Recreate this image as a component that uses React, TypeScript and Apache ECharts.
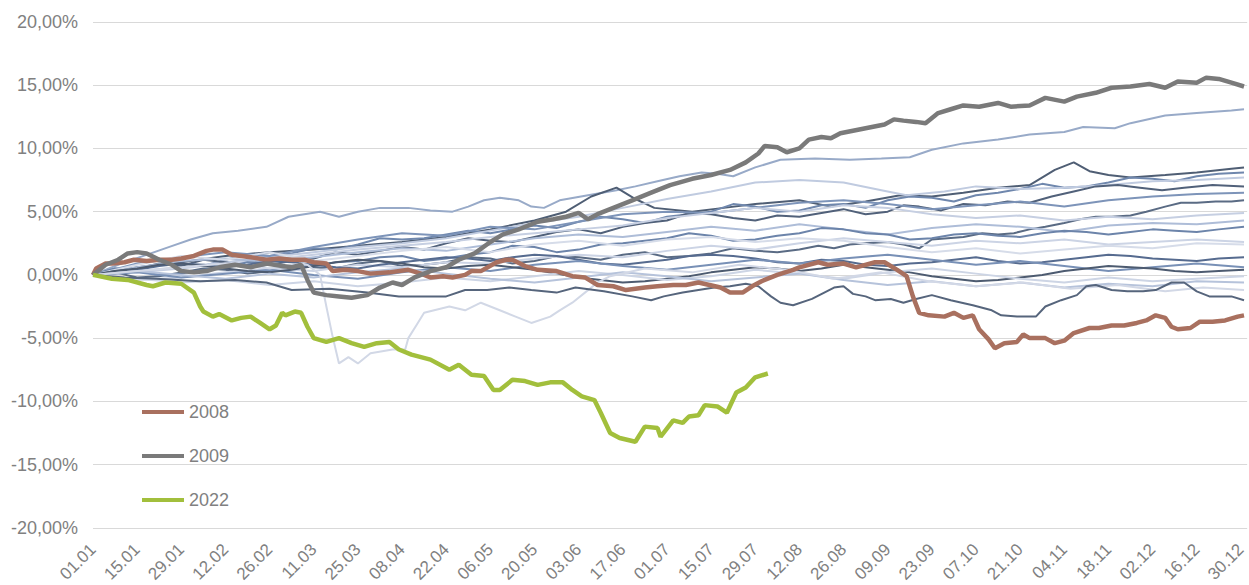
import React, { useEffect, useRef } from "react";
import * as echarts from "echarts";

const xTickLabels = ["01.01","15.01","29.01","12.02","26.02","11.03","25.03","08.04","22.04","06.05","20.05","03.06","17.06","01.07","15.07","29.07","12.08","26.08","09.09","23.09","07.10","21.10","04.11","18.11","02.12","16.12","30.12"];

const highlightNames = ["2008", "2009", "2022"];

// [day of year (0 = 01.01), cumulative change in %]
const s2008: [number, number][] = [[0,0],[1,0.5],[4,0.9],[6,0.9],[10,1.0],[13,1.2],[17,1.1],[21,1.2],[25,1.2],[28,1.3],[32,1.5],[36,1.9],[38,2.0],[41,2.0],[44,1.6],[47,1.5],[50,1.4],[55,1.2],[59,1.3],[63,1.2],[67,1.2],[70,1.0],[74,0.9],[76,0.3],[80,0.4],[84,0.3],[88,0.1],[94,0.2],[100,0.4],[104,0.1],[107,-0.2],[111,-0.1],[114,-0.2],[118,0.0],[120,0.3],[123,0.3],[128,1.0],[131,1.2],[133,1.2],[137,0.7],[141,0.4],[147,0.3],[152,-0.1],[156,-0.2],[160,-0.8],[165,-0.9],[169,-1.2],[175,-1.0],[179,-0.9],[184,-0.8],[188,-0.8],[192,-0.6],[199,-1.0],[202,-1.4],[206,-1.4],[209,-0.9],[212,-0.5],[217,0.0],[222,0.4],[224,0.6],[230,1.0],[233,0.8],[238,0.9],[242,0.6],[248,1.0],[251,1.0],[255,0.4],[258,-0.1],[260,-1.7],[262,-3.0],[265,-3.2],[270,-3.3],[273,-3.0],[276,-3.4],[279,-3.2],[281,-4.3],[284,-5.1],[286,-5.8],[289,-5.4],[293,-5.3],[295,-4.7],[297,-5.0],[302,-5.0],[305,-5.4],[308,-5.2],[311,-4.6],[316,-4.2],[319,-4.2],[323,-4.0],[327,-4.0],[331,-3.8],[334,-3.6],[337,-3.2],[340,-3.4],[342,-4.1],[344,-4.3],[348,-4.2],[351,-3.7],[355,-3.7],[359,-3.6],[363,-3.3],[365,-3.2]];

const s2009: [number, number][] = [[0,0],[4,0.8],[8,1.2],[11,1.7],[14,1.8],[17,1.7],[21,1.2],[25,0.8],[28,0.3],[32,0.2],[36,0.3],[40,0.6],[45,0.8],[50,0.6],[55,0.9],[60,0.7],[63,0.6],[66,0.8],[68,-0.4],[70,-1.4],[74,-1.6],[78,-1.7],[82,-1.8],[87,-1.6],[91,-1.0],[95,-0.6],[98,-0.8],[102,-0.2],[107,0.3],[112,0.6],[116,1.2],[121,1.7],[126,2.6],[130,3.2],[135,3.6],[141,4.2],[146,4.4],[150,4.6],[154,4.9],[157,4.4],[160,4.8],[164,5.2],[171,5.9],[177,6.5],[183,7.1],[190,7.6],[196,7.9],[202,8.3],[207,8.9],[211,9.6],[213,10.2],[217,10.1],[220,9.7],[224,10.0],[227,10.7],[231,10.9],[234,10.8],[237,11.2],[243,11.5],[247,11.7],[251,11.9],[254,12.3],[257,12.2],[261,12.1],[264,12.0],[268,12.8],[272,13.1],[276,13.4],[281,13.3],[287,13.6],[291,13.3],[297,13.4],[302,14.0],[308,13.7],[312,14.1],[318,14.4],[323,14.8],[329,14.9],[335,15.1],[340,14.8],[344,15.3],[350,15.2],[353,15.6],[357,15.5],[361,15.2],[365,14.9]];

const s2022: [number, number][] = [[0,0],[6,-0.3],[11,-0.4],[17,-0.8],[19,-0.9],[23,-0.6],[28,-0.7],[32,-1.4],[34,-2.5],[35,-2.9],[38,-3.3],[40,-3.1],[44,-3.6],[47,-3.4],[50,-3.3],[53,-3.8],[56,-4.3],[58,-4.0],[60,-3.0],[61,-3.2],[64,-2.9],[66,-3.0],[68,-4.1],[70,-5.0],[74,-5.3],[78,-5.0],[82,-5.4],[86,-5.7],[90,-5.4],[94,-5.3],[97,-5.9],[101,-6.3],[107,-6.7],[113,-7.5],[116,-7.1],[120,-7.9],[124,-8.0],[127,-9.1],[129,-9.1],[133,-8.3],[137,-8.4],[141,-8.7],[145,-8.5],[149,-8.5],[152,-9.1],[155,-9.6],[159,-9.9],[161,-10.9],[164,-12.5],[167,-12.9],[172,-13.2],[175,-12.0],[179,-12.1],[180,-12.8],[184,-11.5],[187,-11.7],[189,-11.2],[192,-11.1],[194,-10.3],[198,-10.4],[201,-10.9],[204,-9.3],[207,-8.9],[210,-8.1],[214,-7.8]];

// other years (unlabelled)
const bgA: [number, number][] = [[0,0],[8,0.8],[16,1.5],[24,2.2],[31,2.8],[38,3.3],[46,3.5],[55,3.8],[62,4.6],[67,4.8],[72,5.0],[78,4.6],[84,5.0],[91,5.3],[100,5.3],[107,5.1],[114,5.0],[119,5.4],[124,5.9],[129,6.1],[135,5.9],[139,5.4],[143,5.3],[148,5.9],[157,6.3],[166,6.7],[172,7.0],[179,7.4],[186,7.8],[193,8.1],[198,8.0],[203,7.8],[210,8.5],[218,9.1],[229,9.2],[240,9.1],[250,9.2],[259,9.3],[266,9.9],[276,10.4],[287,10.7],[297,11.1],[308,11.3],[314,11.7],[324,11.6],[329,12.0],[340,12.6],[350,12.8],[361,13.0],[365,13.1]];
const bgB: [number, number][] = [[0,0],[14,0.6],[28,1.0],[42,1.5],[56,1.8],[70,2.0],[84,2.3],[98,2.6],[112,3.0],[126,3.6],[140,4.3],[150,5.0],[158,6.2],[166,6.9],[172,6.0],[178,5.3],[190,5.0],[200,5.3],[210,5.6],[224,5.9],[234,5.4],[245,5.8],[256,6.3],[266,6.2],[276,6.5],[287,6.9],[297,7.1],[305,8.3],[311,8.9],[316,8.2],[322,7.9],[329,7.7],[340,7.9],[350,8.1],[361,8.4],[365,8.5]];
const bgC: [number, number][] = [[0,0],[7,0.5],[14,0.4],[21,0.8],[28,0.9],[35,0.7],[42,1.2],[49,1.6],[56,1.5],[63,1.7],[70,2.1],[77,2.0],[84,2.4],[91,2.9],[98,2.8],[105,2.9],[112,3.2],[119,3.5],[126,3.3],[133,3.6],[140,3.9],[147,3.7],[154,4.2],[161,4.6],[168,4.4],[175,4.1],[182,4.6],[189,4.8],[196,5.0],[203,5.6],[210,5.4],[217,5.0],[224,5.1],[231,5.5],[238,5.6],[245,5.3],[252,5.9],[259,6.2],[266,6.1],[273,5.8],[280,6.3],[287,6.5],[294,6.8],[301,7.2],[308,6.9],[315,7.0],[322,7.3],[329,7.7],[336,7.6],[343,7.4],[350,7.8],[357,8.0],[365,8.1]];
const bgD: [number, number][] = [[0,0],[14,0.3],[28,0.6],[42,1.0],[56,1.4],[70,1.8],[84,2.2],[98,2.5],[112,2.9],[126,3.5],[140,4.1],[154,4.6],[168,5.3],[182,6.0],[196,6.6],[210,7.3],[224,7.5],[238,7.3],[250,6.7],[258,6.3],[270,6.6],[280,7.0],[294,6.8],[308,6.9],[322,7.1],[336,7.4],[350,7.5],[365,7.7]];
const bgE: [number, number][] = [[0,0],[7,0.3],[14,0.5],[21,0.9],[28,0.7],[35,1.2],[42,1.0],[49,0.6],[56,0.8],[63,1.1],[70,1.3],[77,1.8],[84,1.6],[91,1.9],[98,2.2],[105,2.0],[112,2.5],[119,2.9],[126,2.7],[133,2.6],[140,3.0],[147,3.4],[154,3.6],[161,3.3],[168,3.8],[175,4.1],[182,4.3],[189,4.9],[196,4.8],[203,4.5],[210,4.3],[217,4.7],[224,4.6],[231,4.9],[238,5.2],[245,4.8],[252,5.0],[257,5.5],[262,5.4],[269,5.1],[276,5.6],[283,5.5],[290,5.8],[297,5.7],[304,6.2],[311,6.6],[318,7.0],[325,7.1],[332,6.9],[339,6.7],[346,6.9],[355,7.1],[365,7.0]];
const bgF: [number, number][] = [[0,0],[14,0.9],[28,1.4],[42,1.8],[56,1.5],[70,2.2],[84,2.8],[98,3.3],[112,3.1],[126,3.8],[140,3.6],[154,4.2],[168,4.8],[182,5.0],[196,4.9],[210,5.3],[224,5.7],[238,5.9],[252,5.6],[266,5.2],[280,5.5],[294,5.8],[308,5.4],[322,5.9],[336,6.2],[350,6.4],[365,6.5]];
const bgG: [number, number][] = [[0,0],[7,0.2],[14,-0.2],[21,-0.1],[28,0.2],[35,0.5],[42,0.4],[49,0.1],[56,0.3],[63,0.7],[70,0.6],[77,0.5],[84,0.9],[91,1.1],[98,0.7],[105,0.8],[112,1.0],[119,1.4],[126,1.3],[133,0.9],[140,1.1],[147,1.5],[154,1.4],[161,1.2],[168,1.6],[175,1.8],[182,1.4],[189,1.5],[196,1.7],[203,2.1],[210,1.9],[217,1.8],[224,2.0],[230,2.3],[235,2.1],[240,2.4],[245,2.5],[252,2.6],[257,2.4],[262,2.1],[266,2.8],[271,2.9],[276,3.0],[282,3.3],[287,3.2],[292,3.3],[297,3.6],[302,3.8],[308,4.1],[313,4.4],[318,4.6],[323,4.6],[329,4.7],[334,5.0],[340,5.4],[345,5.7],[350,5.7],[356,5.8],[361,5.8],[365,5.9]];
const bgH: [number, number][] = [[0,0],[14,0.2],[28,0.5],[42,0.9],[56,1.2],[70,1.6],[84,2.0],[98,2.3],[112,2.6],[126,3.0],[140,3.3],[154,3.6],[168,3.9],[182,4.5],[196,4.9],[210,5.3],[224,5.0],[238,5.5],[252,5.3],[266,4.8],[280,4.5],[294,4.7],[308,4.3],[322,4.6],[336,4.4],[350,4.7],[365,4.9]];
const bgI: [number, number][] = [[0,0],[14,0.6],[28,1.1],[42,1.3],[56,1.0],[70,1.4],[84,1.8],[98,2.1],[112,1.9],[126,2.4],[140,2.9],[154,3.2],[168,3.0],[182,3.4],[196,3.8],[210,3.5],[224,4.0],[238,3.6],[252,3.2],[266,3.7],[280,4.0],[294,3.8],[308,3.4],[322,3.9],[336,4.1],[350,4.0],[365,4.3]];
const bgJ: [number, number][] = [[0,0],[7,0.5],[14,0.3],[21,0.0],[28,0.1],[35,0.4],[42,0.6],[49,1.0],[56,0.9],[63,0.6],[70,0.7],[77,1.0],[84,1.1],[91,1.4],[98,1.5],[105,1.1],[112,1.3],[119,1.6],[126,1.8],[133,2.3],[140,2.2],[147,1.8],[154,2.0],[161,2.4],[168,2.5],[175,2.7],[182,2.9],[189,3.3],[196,3.1],[203,2.7],[210,2.8],[217,3.1],[224,3.3],[231,3.7],[238,3.6],[245,3.3],[252,3.2],[259,2.8],[266,2.9],[273,3.2],[280,3.3],[287,3.1],[294,3.0],[301,3.3],[308,3.5],[315,3.4],[322,3.2],[329,3.4],[336,3.6],[343,3.5],[350,3.4],[357,3.6],[365,3.8]];
const bgK: [number, number][] = [[0,0],[14,-0.4],[28,-0.2],[42,0.2],[56,0.5],[70,0.3],[84,0.8],[98,0.6],[112,1.0],[126,0.9],[140,1.3],[154,1.6],[168,1.4],[182,1.9],[196,2.3],[210,2.0],[224,2.5],[238,2.9],[252,2.6],[266,2.3],[280,2.7],[294,2.5],[308,2.8],[322,2.4],[336,2.6],[350,2.8],[365,2.6]];
const bgL: [number, number][] = [[0,0],[14,0.8],[28,1.5],[42,1.2],[56,1.8],[70,1.1],[84,1.5],[98,1.9],[112,2.2],[126,1.8],[140,2.4],[154,2.7],[168,2.3],[182,2.8],[196,3.0],[210,2.6],[224,2.9],[238,2.7],[252,2.2],[266,1.8],[280,2.1],[294,1.7],[308,2.0],[322,2.3],[336,2.1],[350,2.5],[365,2.4]];
const bgM: [number, number][] = [[0,0],[7,0.3],[14,0.4],[21,0.7],[28,0.9],[35,0.8],[42,0.6],[49,0.8],[56,1.1],[63,1.0],[70,0.8],[77,0.6],[84,0.5],[91,0.8],[98,1.0],[105,1.2],[112,1.4],[119,1.3],[126,1.1],[133,1.4],[140,1.6],[147,1.5],[154,1.2],[161,0.9],[168,0.8],[175,1.0],[182,1.2],[189,1.5],[196,1.6],[203,1.5],[210,1.3],[217,1.0],[224,0.9],[231,1.2],[238,1.1],[245,0.8],[252,0.7],[259,0.9],[266,1.0],[273,1.2],[280,1.4],[287,1.1],[294,0.9],[301,1.0],[308,1.2],[315,1.4],[322,1.6],[329,1.5],[336,1.3],[343,1.2],[350,1.1],[357,1.3],[365,1.4]];
const bgN: [number, number][] = [[0,0],[14,0.2],[28,-0.2],[42,0.1],[56,0.4],[70,0.0],[84,-0.3],[98,0.2],[112,0.6],[126,0.3],[140,0.8],[154,1.1],[168,0.7],[182,0.4],[196,0.8],[210,1.2],[224,0.9],[238,1.3],[252,1.6],[266,1.2],[280,0.8],[294,1.1],[308,0.7],[322,0.3],[336,0.6],[350,0.9],[365,0.6]];
const bgO: [number, number][] = [[0,0],[7,0.3],[14,0.5],[21,0.8],[28,0.9],[35,0.7],[42,0.5],[49,0.3],[56,0.2],[63,0.4],[70,0.7],[77,1.0],[84,1.2],[91,1.1],[98,0.9],[105,0.6],[112,0.5],[119,0.7],[126,0.8],[133,0.6],[140,0.4],[147,0.1],[154,-0.2],[161,-0.4],[168,-0.6],[175,-0.5],[182,-0.3],[189,-0.1],[196,0.2],[203,0.4],[210,0.6],[217,0.5],[224,0.3],[231,0.5],[238,0.8],[245,0.6],[252,0.4],[259,0.2],[266,-0.1],[273,-0.3],[280,-0.5],[287,-0.4],[294,-0.2],[301,0.0],[308,0.3],[315,0.5],[322,0.7],[329,0.6],[336,0.5],[343,0.3],[350,0.2],[357,0.3],[365,0.4]];
const bgP: [number, number][] = [[0,0],[14,-0.3],[28,-0.6],[42,-0.4],[56,-0.8],[70,-0.5],[84,-0.9],[98,-0.6],[112,-0.2],[126,-0.5],[140,-0.1],[154,0.3],[168,0.0],[182,-0.4],[196,-0.1],[210,0.4],[224,0.1],[238,-0.3],[252,0.2],[266,0.5],[280,0.1],[294,-0.3],[308,-0.6],[322,-0.2],[336,-0.5],[350,-0.3],[365,-0.1]];
const bgQ: [number, number][] = [[0,0],[14,0.3],[28,0.0],[42,-0.3],[56,0.1],[70,-0.2],[84,0.2],[98,0.5],[112,0.1],[126,-0.3],[140,-0.6],[154,-0.2],[168,0.2],[182,-0.1],[196,-0.5],[210,-0.2],[224,0.1],[238,-0.4],[252,-0.8],[266,-0.5],[280,-0.9],[294,-0.6],[308,-1.0],[322,-0.7],[336,-0.9],[350,-0.5],[365,-0.6]];
const bgR: [number, number][] = [[0,0],[14,0.3],[28,0.6],[42,0.9],[56,0.5],[66,0.9],[68,0.8],[72,0.0],[74,-2.5],[76,-4.9],[78,-7.0],[81,-6.5],[84,-7.0],[88,-6.2],[95,-5.9],[99,-5.9],[100,-5.0],[103,-3.8],[105,-3.0],[113,-2.5],[118,-2.8],[123,-2.2],[129,-2.8],[134,-3.3],[139,-3.8],[145,-3.3],[148,-2.8],[152,-2.2],[156,-1.4],[160,-0.6],[164,-0.1],[175,0.5],[190,0.2],[205,0.8],[220,0.4],[235,-0.3],[250,0.2],[265,-0.5],[280,-0.9],[295,-0.6],[310,-1.1],[325,-0.8],[340,-1.3],[352,-1.0],[365,-1.2]];
const bgS: [number, number][] = [[0,0],[10,-0.2],[20,-0.3],[34,-0.5],[45,-0.4],[55,-0.6],[63,-1.2],[75,-1.1],[87,-1.4],[97,-1.7],[103,-1.7],[112,-1.7],[118,-1.2],[125,-1.2],[132,-1.0],[139,-1.2],[147,-1.4],[153,-1.0],[162,-1.3],[171,-1.7],[177,-2.0],[181,-1.7],[187,-1.4],[192,-1.2],[197,-1.0],[202,-0.9],[207,-0.7],[211,-0.9],[215,-1.7],[218,-2.2],[222,-2.4],[228,-1.9],[235,-1.0],[238,-0.9],[241,-1.5],[245,-1.7],[248,-2.0],[253,-1.9],[257,-2.2],[261,-1.9],[266,-1.6],[272,-2.0],[279,-2.4],[285,-2.8],[288,-3.2],[293,-3.3],[299,-3.3],[302,-2.5],[307,-2.0],[312,-1.6],[315,-0.9],[318,-0.8],[323,-1.2],[328,-1.3],[333,-1.3],[337,-1.2],[342,-0.6],[346,-0.6],[350,-1.3],[354,-1.7],[361,-1.7],[365,-2.0]];

const bgSeries = [bgA, bgB, bgC, bgD, bgE, bgF, bgG, bgH, bgI, bgJ, bgK, bgL, bgM, bgN, bgO, bgP, bgQ, bgR, bgS];
const bgColors = ["#98aac8", "#4f5e74", "#6f87ad", "#c0cbe0", "#51617a", "#7d94b9", "#5a6b84", "#c6cfe2", "#aebdd8", "#6c84aa", "#ccd4e5", "#d6dce9", "#566b8f", "#7890b6", "#4d5b70", "#cdd5e5", "#b6c3db", "#d2d8e6", "#56657c"];
const highlightColors = ["#a9705f", "#7a7a7a", "#a2bf3c"];

export default function App() {
  const ref = useRef<HTMLDivElement>(null);
  useEffect(() => {
    document.body.style.margin = "0";
    const chart = echarts.init(ref.current!, null, { renderer: "svg" });
    const font = "'Liberation Sans', Arial, sans-serif";
    const series: any[] = bgSeries.map((d, i) => ({
      name: "other" + (i + 1),
      type: "line",
      data: d,
      symbol: "none",
      silent: true,
      z: 2,
      lineStyle: { width: 2, color: bgColors[i] },
      itemStyle: { color: bgColors[i] },
    }));
    [s2008, s2009, s2022].forEach((d, i) => {
      series.push({
        name: highlightNames[i],
        type: "line",
        data: d,
        symbol: "none",
        silent: true,
        z: 5,
        lineStyle: { width: 4.5, color: highlightColors[i] },
        itemStyle: { color: highlightColors[i] },
      });
    });
    chart.setOption({
      animation: false,
      grid: { left: 93, right: 0, top: 22, bottom: 57, containLabel: false },
      legend: {
        data: highlightNames,
        orient: "vertical",
        left: 137,
        top: 397,
        icon: "rect",
        itemWidth: 42,
        itemHeight: 4,
        itemGap: 24,
        textStyle: { color: "#808080", fontSize: 18, fontFamily: font, lineHeight: 20 },
      },
      xAxis: {
        type: "value",
        min: 0,
        max: 366,
        interval: 14,
        axisLine: { show: false },
        axisTick: { show: false },
        splitLine: { show: false },
        axisLabel: {
          rotate: 45,
          margin: 19,
          color: "#808080",
          fontSize: 17,
          fontFamily: font,
          showMaxLabel: false,
          formatter: (v: number) => (v % 14 === 0 && xTickLabels[v / 14]) || "",
        },
      },
      yAxis: {
        type: "value",
        min: -20,
        max: 20,
        interval: 5,
        axisLine: { show: false },
        axisTick: { show: false },
        splitLine: { lineStyle: { color: "#d9d9d9", width: 1 } },
        axisLabel: {
          margin: 15,
          color: "#808080",
          fontSize: 18,
          fontFamily: font,
          formatter: (v: number) => v.toFixed(2).replace(".", ",") + "%",
        },
      },
      series,
    });
    return () => chart.dispose();
  }, []);
  return <div ref={ref} style={{ width: 1249, height: 585 }} />;
}
